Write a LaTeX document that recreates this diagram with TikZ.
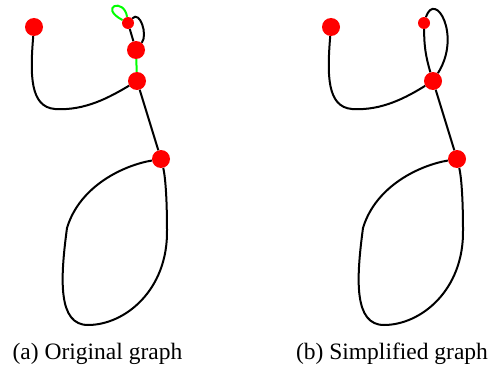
\documentclass[tikz,border=0pt]{standalone}
\usepackage{fontspec}
\setmainfont{Liberation Serif}
\begin{document}
\begin{tikzpicture}[x=1pt,y=1pt]
		\tikzstyle{bigdot} =[circle, fill=red, inner sep=0pt, minimum size=18pt];
		\tikzstyle{smalldot} =[circle, fill=red, inner sep=0pt, minimum size=12pt];
		\tikzstyle{edge} =[line width=2pt, black];
		\tikzstyle{removed} =[line width=2pt, green];
		\tikzstyle{caption} =[anchor=base, inner sep=0pt, font=\fontsize{23.5}{27}\selectfont];
		\useasboundingbox (0,0) rectangle (490,365);
		
		% original graph
		\node[bigdot] (a1) at (34,338) {};
		\node[smalldot] (b1) at (128,342) {};
		\node[bigdot] (c1) at (136,315) {};
		\node[bigdot] (d1) at (137,284) {};
		\node[bigdot] (e1) at (161,206) {};
		
		\draw[edge] (a1) .. controls (30,290) and (30,258) .. (55,256) .. controls (85,254) and (110,268) .. (d1);
		\draw[edge] (b1) -- (c1);
		\draw[edge] (b1) .. controls (140,355) and (148,330) .. (c1);
		\draw[removed] (b1) .. controls (98,358) and (124,368) .. (b1);
		\draw[removed] (c1) -- (d1);
		\draw[edge] (d1) -- (e1);
		\draw[edge] (e1) .. controls (125,200) and (80,180) .. (67,137) .. controls (60,85) and (58,40) .. (88,40) .. controls (125,40) and (168,75) .. (167,135) .. controls (167,170) and (165,190) .. (e1);
		
		% simplified graph
		\node[bigdot] (a2) at (331,338) {};
		\node[smalldot] (b2) at (424,342) {};
		\node[bigdot] (d2) at (433,284) {};
		\node[bigdot] (e2) at (457,206) {};
		
		\draw[edge] (a2) .. controls (327,290) and (327,258) .. (352,256) .. controls (382,254) and (407,268) .. (d2);
		\draw[edge] (b2) to[bend right=8] (d2);
		\draw[edge] (b2) .. controls (435,375) and (462,330) .. (d2);
		\draw[edge] (d2) -- (e2);
		\draw[edge] (e2) .. controls (421,200) and (376,180) .. (363,137) .. controls (356,85) and (354,40) .. (384,40) .. controls (421,40) and (464,75) .. (463,135) .. controls (463,170) and (461,190) .. (e2);
		
		\node[caption] (capa) at (97.5,6) {(a) Original graph};
		\node[caption] (capb) at (392,6) {(b) Simplified graph};
	\end{tikzpicture}
\end{document}
